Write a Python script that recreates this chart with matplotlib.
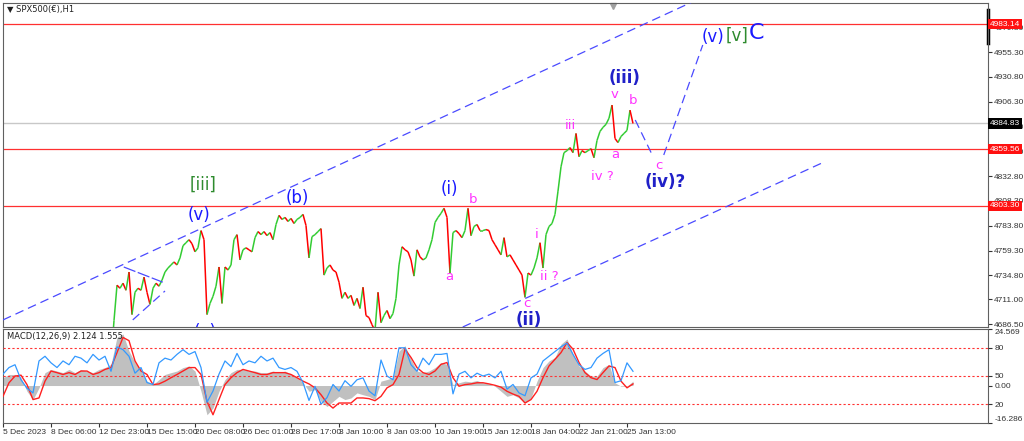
import numpy as np
import matplotlib.pyplot as plt
import matplotlib.transforms as mtransforms
from matplotlib.collections import LineCollection

# H1 closes, one value every 4 bars, starting at bar 144
start_bar = 144
step = 4
closes = [
    4650, 4690, 4725, 4722, 4727, 4720, 4738, 4696, 4718, 4722,
    4720, 4733, 4718, 4706, 4722, 4727, 4724, 4730, 4738, 4742,
    4745, 4748, 4745, 4752, 4764, 4767, 4770, 4766, 4758, 4762,
    4779, 4770, 4696, 4707, 4714, 4724, 4743, 4707, 4743, 4740,
    4745, 4770, 4775, 4750, 4760, 4762, 4760, 4758, 4772, 4778,
    4775, 4778, 4774, 4777, 4770, 4785, 4794, 4790, 4792, 4788,
    4791, 4786, 4790, 4792, 4795, 4784, 4752, 4773, 4775, 4778,
    4781, 4735, 4742, 4745, 4740, 4738, 4728, 4712, 4718, 4712,
    4715, 4705, 4712, 4702, 4723, 4695, 4693, 4686, 4680, 4718,
    4688, 4695, 4700, 4692, 4697, 4712, 4745, 4763, 4760, 4758,
    4750, 4734, 4760, 4753, 4750, 4752, 4760, 4770, 4787, 4792,
    4796, 4801, 4792, 4737, 4777, 4779, 4776, 4772, 4779, 4801,
    4774, 4783, 4785, 4779, 4779, 4780, 4779, 4770, 4765, 4760,
    4755, 4772, 4753, 4755, 4750, 4745, 4740, 4735, 4713, 4737,
    4735, 4742, 4752, 4767, 4742, 4775, 4783, 4786, 4795, 4818,
    4842, 4856, 4858, 4861, 4856, 4875, 4852, 4858, 4856, 4858,
    4860, 4851, 4868, 4877, 4881, 4884, 4890, 4903, 4870, 4866,
    4872, 4875, 4878, 4898, 4884.83,
]

# MACD panel, one value every 8 bars from bar 0
macd_step = 8
macd = [
    3.4, 4.8, 4.8, 3.4, -2.5, -6.1, -1.0, 5.6, 7.0, 6.3,
    5.6, 7.0, 5.6, 7.0, 6.3, 5.6, 7.0, 7.8, 9.2, 21.0,
    22.4, 15.0, 10.0, 6.3, 1.9, 0.4, 2.6, 4.8, 5.6, 6.3,
    7.8, 8.5, 6.3, -2.5, -12.7, -9.8, -2.5, 2.6, 5.6, 7.0,
    7.0, 6.3, 6.3, 5.6, 5.6, 6.3, 5.6, 6.3, 4.8, 3.4,
    1.2, -2.5, -1.8, -6.9, -9.1, -6.9, -4.7, -6.1, -5.4, -3.2,
    -4.0, -4.7, -6.1, 1.9, 2.6, 3.4, 15.0, 17.3, 11.4, 6.3,
    5.6, 6.3, 7.8, 10.0, 9.2, 0.4, 1.2, 1.9, 1.6, 2.2,
    1.2, 0.7, -0.3, -2.5, -4.7, -4.0, -5.4, -7.6, -5.4, 1.9,
    7.8, 10.7, 12.2, 18.0, 20.2, 13.6, 8.5, 6.3, 4.1, 4.1,
    7.8, 9.2, 1.2, -0.3, -0.3, 1.9,
]
signal = [
    -4.7, 1.2, 4.1, 4.5, 0.4, -6.1, -5.4, 1.9, 6.3, 5.6,
    4.8, 5.6, 4.8, 6.3, 6.3, 4.8, 5.6, 7.0, 7.8, 14.3,
    20.9, 19.5, 10.7, 6.3, 4.8, 0.4, 0.7, 1.9, 3.4, 4.8,
    6.3, 7.8, 7.8, 4.8, -6.9, -12.7, -6.1, 0.4, 3.4, 5.6,
    7.0, 6.3, 5.6, 4.8, 4.8, 5.6, 5.6, 5.6, 4.8, 3.4,
    1.9, 0.7, -1.0, -4.0, -7.6, -9.8, -7.6, -7.6, -7.6, -5.4,
    -5.4, -5.7, -6.6, -4.7, -1.0, 0.4, 4.8, 15.8, 12.2, 7.8,
    5.6, 4.8, 6.3, 9.2, 10.0, 3.4, -0.3, 0.4, 0.7, 1.2,
    1.2, 0.7, 0.1, -0.7, -2.5, -3.7, -4.7, -7.6, -6.1, -2.5,
    3.4, 8.5, 11.4, 14.3, 18.7, 15.8, 10.0, 5.6, 3.4, 2.6,
    5.6, 8.5, 7.8, 1.9, -1.0, 0.7,
]
stoch = [
    52, 59, 62, 46, 37, 32, 66, 71, 64, 59,
    66, 62, 71, 69, 64, 73, 67, 71, 55, 81,
    78, 71, 53, 59, 43, 41, 64, 69, 67, 73,
    78, 73, 76, 59, 22, 34, 52, 66, 60, 74,
    62, 66, 64, 71, 66, 69, 59, 57, 59, 55,
    43, 24, 39, 20, 27, 41, 34, 45, 39, 46,
    48, 34, 29, 67, 50, 46, 80, 80, 62, 55,
    69, 62, 73, 73, 74, 31, 52, 55, 48, 53,
    50, 52, 48, 55, 36, 41, 32, 29, 48, 52,
    66, 71, 76, 81, 85, 73, 62, 57, 59, 69,
    74, 78, 43, 45, 64, 55,
]

red_levels = [4983.14, 4859.56, 4803.30]
last_price = 4884.83
price_ticks = [4979.80, 4955.30, 4930.80, 4906.30, 4881.80, 4857.30, 4832.80,
               4808.30, 4783.80, 4759.30, 4734.80, 4711.00, 4686.50]
date_labels = ['5 Dec 2023', '8 Dec 06:00', '12 Dec 23:00', '15 Dec 15:00',
               '20 Dec 08:00', '26 Dec 01:00', '28 Dec 17:00', '3 Jan 10:00',
               '8 Jan 03:00', '10 Jan 19:00', '15 Jan 12:00', '18 Jan 04:00',
               '22 Jan 21:00', '25 Jan 13:00']
date_bars = [64 * k for k in range(len(date_labels))]

# wave labels: (text, bar, price, colour, size, bold)
BLUE = '#1a1aff'
DBLUE = '#2020c8'
MAG = '#ff33ff'
GRN = '#2e8b2e'
waves = [
    ('[iii]', 267, 4824, GRN, 12, False),
    ('(v)', 261, 4794, BLUE, 12, False),
    ('(a)', 269, 4679, BLUE, 12, False),
    ('(b)', 392, 4811, BLUE, 12, False),
    ('(i)', 595, 4820, BLUE, 12, False),
    ('b', 627, 4810, MAG, 9.5, False),
    ('a', 595, 4734, MAG, 9.5, False),
    ('i', 712, 4775, MAG, 9.5, False),
    ('ii ?', 729, 4734, MAG, 9.5, False),
    ('c', 699, 4707, MAG, 9.5, False),
    ('(ii)', 701, 4691, DBLUE, 12, True),
    ('iii', 756, 4883, MAG, 9.5, False),
    ('iv ?', 799, 4832, MAG, 9.5, False),
    ('v', 816, 4913, MAG, 9.5, False),
    ('(iii)', 829, 4930, DBLUE, 12, True),
    ('b', 840, 4908, MAG, 9.5, False),
    ('a', 816, 4854, MAG, 9.5, False),
    ('c', 875, 4843, MAG, 9.5, False),
    ('(iv)?', 883, 4827, DBLUE, 12, True),
    ('(v)', 947, 4970, BLUE, 12, False),
    ('[v]', 979, 4972, GRN, 12, False),
    ('C', 1004, 4974, BLUE, 16, False),
]

# dashed lines (bar, price)
upper_chan = ([0, 940], [4690.7, 5012.1])
lower_chan = ([613, 1092], [4683.7, 4845.8])
tri_up = ([161, 213], [4743, 4728])
tri_lo = ([173, 216], [4690.7, 4719.3])
proj1 = ([843, 867], [4888.3, 4851.7])
proj2 = ([881, 933], [4853.7, 4962.4])

plt.rcParams['font.family'] = 'DejaVu Sans'
SMALL = 'Liberation Sans'
fig = plt.figure(figsize=(10.24, 4.41), dpi=100)
W, H = 1024, 441
ax = fig.add_axes([3 / W, 1 - 327 / H, 985 / W, 324 / H])
axm = fig.add_axes([3 / W, 1 - 423 / H, 985 / W, 94 / H])
xmax = 985 / 0.75

# price
bars = start_bar + step * np.arange(len(closes))
c = np.array(closes, dtype=float)
segs = [[(bars[i - 1], c[i - 1]), (bars[i], c[i])] for i in range(1, len(c))]
cols = ['#33cc33' if c[i] >= c[i - 1] else '#ff0000' for i in range(1, len(c))]
ax.add_collection(LineCollection(segs, colors=cols, linewidths=1.1, zorder=3))

for lv in red_levels:
    ax.axhline(lv, color='#ff3030', lw=0.9, zorder=2)
ax.axhline(last_price, color='#c8c8c8', lw=1, zorder=1)

dash = dict(color='#4a4aff', lw=0.9, dashes=(7, 4), zorder=4)
for xs, ys in [upper_chan, lower_chan, tri_lo, proj1, proj2]:
    ax.plot(xs, ys, **dash)
ax.plot(tri_up[0], tri_up[1], color='#4a4aff', lw=0.9, dashes=(10, 2), zorder=4)

for t, bx, py, col, fs, bold in waves:
    ax.text(bx, py, t, color=col, fontsize=fs, ha='center', va='center',
            fontweight='bold' if bold else 'normal', zorder=5, clip_on=True)

ax.set_xlim(0, xmax)
ax.set_ylim(4683.7, 5003.9)
ax.set_xticks([])
ax.yaxis.tick_right()
ax.set_yticks(price_ticks)
ax.set_yticklabels(['%.2f' % v for v in price_ticks], family=SMALL)
ax.tick_params(axis='y', labelsize=6, length=3, pad=1.5, colors='#333333')
for s in ax.spines.values():
    s.set_color('#606060')

tr = mtransforms.blended_transform_factory(ax.transAxes, ax.transData)
for lv in red_levels:
    ax.text(1.002, lv, '%.2f' % lv, transform=tr, fontsize=6, color='white',
            family=SMALL, ha='left', va='center', clip_on=False, zorder=6,
            bbox=dict(boxstyle='square,pad=0.2', fc='#ff1010', ec='none'))
ax.text(1.002, last_price, '%.2f' % last_price, transform=tr, fontsize=6,
        family=SMALL, color='white', ha='left', va='center', clip_on=False,
        zorder=6, bbox=dict(boxstyle='square,pad=0.2', fc='black', ec='none'))
ax.plot([1, 1], [4997, 4964], transform=tr, color='black', lw=2.5, clip_on=False)
ax.plot([813], [5001], marker='v', color='#a0a0a0', ms=4, clip_on=False)
ax.text(0.004, 0.981, '\u25bc SPX500(\u20ac),H1', transform=ax.transAxes,
        fontsize=6, va='center', ha='left', color='#202020')

# MACD panel
mb = macd_step * np.arange(len(macd))
axm.fill_between(mb, 0, macd, color='#c0c0c0', lw=0, zorder=1)
axm.plot(mb, signal, color='#ff2020', lw=1, zorder=3)
axm.set_xlim(0, xmax)
axm.set_ylim(-16.286, 24.569)

axs = axm.twinx()
axs.plot(mb, stoch, color='#3399ff', lw=0.9, zorder=4)
for lv in [80, 50, 20]:
    axs.axhline(lv, color='#ff3333', lw=0.8, ls=(0, (2, 2)))
axs.set_ylim(0, 100)
axs.set_yticks([80, 50, 20])
axs.set_yticklabels(['80', '50', '20'], family=SMALL)
axs.tick_params(axis='y', labelsize=6, length=3, pad=1.5, colors='#333333')
for s in axs.spines.values():
    s.set_visible(False)

axm.yaxis.tick_right()
axm.set_yticks([24.569, 0, -16.286])
axm.set_yticklabels(['24.569', '0.00', '-16.286'], family=SMALL)
axm.tick_params(axis='y', labelsize=6, length=3, pad=1.5, colors='#333333')
labs = axm.get_yticklabels()
labs[0].set_va('top')
labs[-1].set_va('bottom')
axm.set_xticks(date_bars)
axm.set_xticklabels(date_labels, ha='left', family=SMALL)
axm.tick_params(axis='x', labelsize=6, length=3, pad=1.5, colors='#333333')
for s in axm.spines.values():
    s.set_color('#606060')
axm.text(0.004, 1 - 7 / 94, 'MACD(12,26,9) 2.124 1.555', transform=axm.transAxes,
         fontsize=6, va='center', ha='left', color='#202020')

fig.savefig('out.png', dpi=100)
